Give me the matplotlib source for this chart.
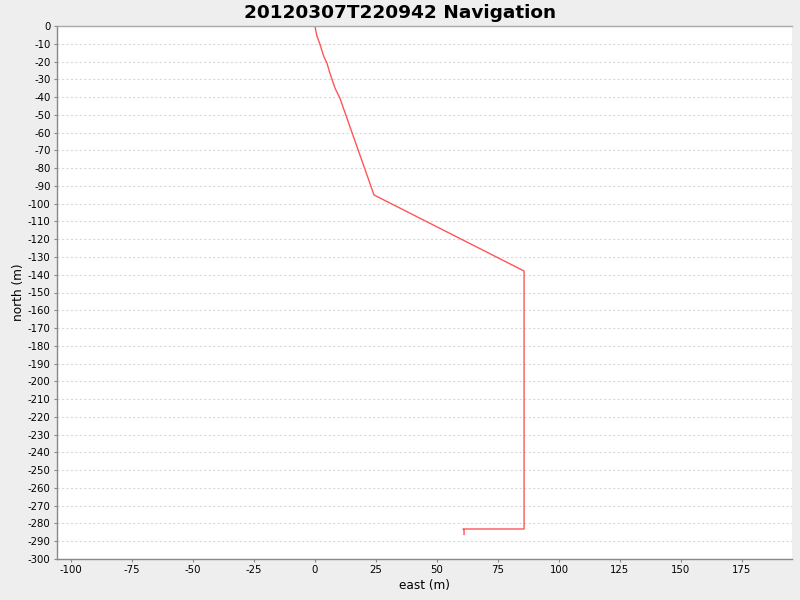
import matplotlib
matplotlib.use('Agg')
import matplotlib.pyplot as plt
import numpy as np

# 航迹数据 (east, north), 单位 m
east = [0.0, 0.8, 2.0, 3.7, 4.9, 6.1, 8.2, 10.2, 24.2, 85.7, 85.7, 60.7, 61.1, 61.1]
north = [0.0, -5.6, -10.1, -17.4, -20.8, -26.4, -34.9, -40.5, -95.1, -137.9, -283.1, -283.1, -283.8, -286.2]

x_ticks = np.arange(-100, 176, 25)
y_ticks = np.arange(0, -301, -10)

plt.rcParams['font.family'] = ['DejaVu Sans']

fig = plt.figure(figsize=(8, 6), dpi=100, facecolor='#EEEEEE')
ax = fig.add_axes([0.07125, 0.0683, 0.91875, 0.8884])
ax.set_facecolor('white')

ax.plot(east, north, color='#FF5555', linewidth=1.0)

ax.set_xlim(-105.7, 195.5)
ax.set_ylim(-300, 0)
ax.set_xticks(x_ticks)
ax.set_yticks(y_ticks)
ax.set_xticklabels([str(v) for v in x_ticks])
ax.set_yticklabels([str(v) for v in y_ticks])

# 网格线 只画水平
ax.yaxis.grid(True, color='#D8D8D8', linestyle=(0, (2, 2)), linewidth=0.8)
ax.xaxis.grid(False)
ax.set_axisbelow(True)

ax.spines['right'].set_visible(False)
ax.spines['top'].set_color('#AAAAAA')
ax.spines['left'].set_color('#888888')
ax.spines['bottom'].set_color('#888888')
for s in ['top', 'left', 'bottom']:
    ax.spines[s].set_linewidth(1.0)

ax.tick_params(axis='both', direction='out', length=2.5, width=0.8, color='#888888',
               labelsize=7.3, pad=2)

ax.set_xlabel('east (m)', fontsize=8.7, labelpad=3)
ax.set_ylabel('north (m)', fontsize=8.7, labelpad=2)
fig.suptitle('20120307T220942 Navigation', fontsize=13.3, fontweight='bold', y=0.993)

plt.savefig('out.png', dpi=100, facecolor=fig.get_facecolor())
plt.close()
